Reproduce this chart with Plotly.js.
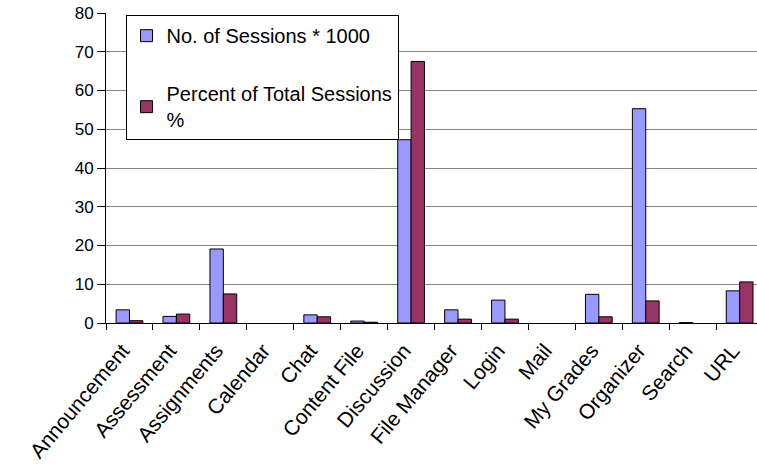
<!DOCTYPE html>
<html><head><meta charset="utf-8">
<script src="https://cdn.plot.ly/plotly-3.0.1.min.js"></script>
<style>html,body{margin:0;padding:0;background:#fff}</style>
</head><body>
<div id="chart" style="width:757px;height:467px"></div>
<script>
const categories = ["Announcement","Assessment","Assignments","Calendar","Chat","Content File","Discussion","File Manager","Login","Mail","My Grades","Organizer","Search","URL"];
const sessions = [3.4, 1.7, 19.1, 0, 2.1, 0.5, 47.3, 3.4, 5.9, 0, 7.4, 55.3, 0.1, 8.3];
const percent = [0.6, 2.3, 7.5, 0, 1.6, 0.2, 67.5, 1.0, 1.0, 0, 1.6, 5.7, 0, 10.6];
const seriesNames = ["No. of Sessions * 1000", "Percent of Total Sessions<br>%"];
const yTicks = [0,10,20,30,40,50,60,70,80];

const font = "Liberation Sans, Arial, sans-serif";
const lineW = arr => arr.map(v => v === 0 ? 0 : 1);
const traces = [
  {type:"bar", x:categories, y:sessions, name:seriesNames[0], legendgroup:"a",
   marker:{color:"#9999FF", line:{color:"#000", width:lineW(sessions)}}},
  {type:"bar", x:categories, y:percent, name:seriesNames[1], legendgroup:"b",
   marker:{color:"#993366", line:{color:"#000", width:lineW(percent)}}}
];
const layout = {
  width:757, height:467,
  margin:{l:106, r:0, t:13, b:144},
  paper_bgcolor:"#fff", plot_bgcolor:"#fff",
  font:{family:font, color:"#000", size:17},
  barmode:"group", bargap:0.43, bargroupgap:0,
  showlegend:true,
  legend:{x:0.03, y:0.993, xanchor:"left", yanchor:"top",
    bordercolor:"#000", borderwidth:1, bgcolor:"#fff",
    font:{family:font, size:20, color:"#000"}, tracegroupgap:29,
    traceorder:"grouped", itemwidth:30},
  xaxis:{type:"category", range:[-0.5, 13.37], tickson:"boundaries",
    ticks:"outside", ticklen:6, tickcolor:"#000", showline:true, linecolor:"#000", linewidth:1,
    tickangle:-50, ticklabelstandoff:6, ticklabelshift:-7,
    tickfont:{family:font, size:21, color:"#000"}, showgrid:false, fixedrange:true},
  yaxis:{range:[0,80], tickvals:yTicks, ticktext:yTicks.map(String),
    ticks:"outside", ticklen:8, tickcolor:"#000", showline:true, linecolor:"#000", linewidth:1,
    showgrid:true, gridcolor:"#868686", gridwidth:1, zeroline:false,
    tickfont:{family:font, size:17, color:"#000"}, fixedrange:true}
};
Plotly.newPlot("chart", traces, layout, {staticPlot:true, displayModeBar:false});
</script>
</body></html>
